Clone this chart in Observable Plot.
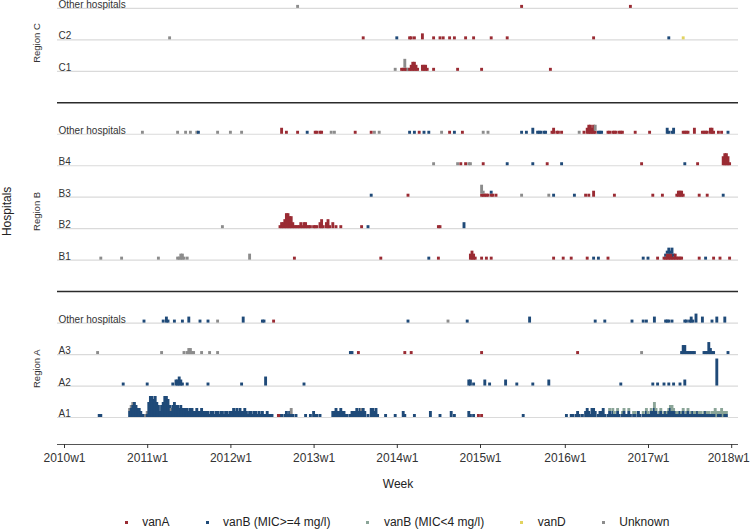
<!DOCTYPE html>
<html>
<head>
<meta charset="utf-8">
<script src="https://cdn.jsdelivr.net/npm/d3@7"></script>
<script src="https://cdn.jsdelivr.net/npm/@observablehq/plot@0.6"></script>
<style>
  html, body { margin: 0; padding: 0; background: #fff; }
  svg { display: block; }
  #legend { display: flex; justify-content: center; align-items: center; height: 20px; padding-left: 44px;
            font: 12px "Liberation Sans", Arial, sans-serif; color: #222; }
  #legend .item { display: flex; align-items: center; margin: 0 18px; white-space: nowrap; }
  #legend .sq { width: 3px; height: 3px; margin-right: 14.5px; }
</style>
</head>
<body>
<div id="chart"></div>
<div id="legend"></div>
<script>
// ---------- categories ----------
const types = ["vanA", "vanB (MIC>=4 mg/l)", "vanB (MIC<4 mg/l)", "vanD", "Unknown"];
const typeColors = ["#9a2b33", "#1f4a78", "#8ba598", "#e2d35f", "#8c8c8c"];
const regions = ["Region A", "Region B", "Region C"];
const hospitalsA = ["A1", "A2", "A3", "Other hospitals"];
const hospitalsB = ["B1", "B2", "B3", "B4", "Other hospitals"];
const hospitalsC = ["C1", "C2", "Other hospitals"];
const tickLabels = ["2010w1", "2011w1", "2012w1", "2013w1", "2014w1", "2015w1", "2016w1", "2017w1", "2018w1"];
const weeksPerYear = [52, 52, 52, 52, 52, 53, 52, 52];

// ---------- cases: [week index since 2010w1, count] ----------
// Region A, A1 (vanB MIC>=4, weekly counts per year)
const A1_vanBhi_2010 = [0,0,0,0,0,0,0,0,0,0, 0,0,0,0,0,0,0,0,0,0, 0,0,1,1,0,0,0,0,0,0, 0,0,0,0,0,0,0,0,0,0, 0,2,3,4,5,4,3,3,2,1, 1,0];
const A1_vanBhi_2011 = [1,5,7,7,6,7,5,4,2,4, 5,7,7,6,4,2,4,5,4,4, 3,4,3,3,3,3,2,3,3,2, 2,3,2,2,3,2,2,2,2,1, 2,2,1,2,2,1,2,2,1,2, 2,1];
const A1_vanBhi_2012 = [2,2,3,2,3,2,3,2,2,3, 2,1,2,2,1,2,2,1,2,1, 2,1,1,2,1,1,1,0,0,0, 0,0,1,0,1,2,1,2,1,1, 0,1,0,0,0,0,0,1,0,0, 1,0];
const A1_vanBhi_2013 = [2,1,1,0,1,0,0,0,0,0, 0,0,2,2,3,2,2,3,2,2, 1,1,0,1,2,2,2,3,2,3, 2,3,2,0,1,0,3,3,2,3, 1,0,0,0,0,1,0,0,0,0, 0,1];
const A1_vanBhi_2014 = [0,0,0,0,2,1,0,0,0,0, 0,1,0,0,0,0,0,0,0,0, 0,2,0,0,0,0,0,1,0,0, 0,0,0,0,2,0,1,0,0,0, 0,0,0,0,0,2,1,0,1,0, 0,0];
const A1_vanBhi_2015 = [0,0,0,0,0,0,0,0,0,0, 0,0,0,0,0,0,0,0,0,0, 0,0,0,0,0,0,0,1,0,0, 0,0,0,0,0,0,0,0,0,0, 0,0,0,0,0,0,0,0,0,0, 0,0,0];
const A1_vanBhi_2016 = [0,1,0,0,1,1,0,1,2,1, 0,1,0,2,3,2,1,3,3,2, 0,1,2,2,3,1,0,1,2,1, 2,1,1,2,1,0,1,2,1,1, 2,1,0,1,1,0,2,1,0,1, 1,2];
const A1_vanBhi_2017 = [1,1,2,2,3,2,1,1,2,1, 1,2,1,2,3,2,2,2,1,1, 2,1,2,1,1,2,1,1,2,1, 1,2,1,1,1,1,2,1,1,1, 1,1,1,0,1,1,1,0,1,1, 0,0];
const A1_vanA = [[134,1],[135,1],[259,1],[261,1]];
const A1_vanBlo = [[341,1],[343,1],[344,1],[346,1],[349,1],[350,1],[353,1],[356,1],[357,1],[362,1],[364,1],[365,1],[367,1],[369,2],[370,1],[372,1],[373,1],[375,1],[377,1],[378,1],[379,1],[380,2],[381,1],[383,1],[384,1],[386,1],[387,1],[389,1],[390,1],[392,1],[394,1],[395,1],[397,1],[398,1],[400,1],[402,1],[403,1],[405,1],[406,1],[407,2],[408,2],[409,1],[410,1],[411,2],[412,2],[413,1],[414,1]];
const A1_unknown = [[41,1],[42,1],[43,1],[51,1],[52,1],[67,1],[142,2],[186,1]];

// Region A, A2 / A3 / other
const A2_vanBhi = [[37,1],[52,1],[68,1],[70,2],[71,2],[72,3],[73,2],[74,1],[77,1],[90,1],[111,1],[126,3],[150,1],[253,2],[254,2],[256,1],[263,2],[266,1],[276,2],[283,1],[293,1],[303,2],[348,1],[368,1],[371,1],[375,1],[378,1],[381,1],[385,1],[388,2],[408,9]];
const A3_vanA = [[184,1],[213,1],[217,1],[261,1],[321,1]];
const A3_vanBhi = [[179,1],[180,1],[386,1],[387,3],[388,3],[389,1],[390,1],[391,1],[392,1],[393,1],[394,1],[400,1],[401,1],[402,1],[403,4],[404,2],[405,1],[406,1],[415,1]];
const A3_unknown = [[21,1],[61,1],[75,1],[77,1],[78,2],[79,2],[80,1],[81,1],[86,1],[91,1],[96,1],[361,1]];
const AO_vanA = [[131,1]];
const AO_vanBhi = [[50,1],[62,1],[64,2],[65,1],[69,1],[74,1],[78,2],[85,1],[90,1],[112,2],[124,1],[125,1],[215,1],[252,1],[291,2],[332,1],[338,1],[355,1],[362,1],[364,1],[369,2],[376,1],[377,1],[378,1],[380,1],[388,1],[389,1],[391,1],[392,2],[393,1],[395,3],[399,2],[405,1],[408,2],[413,2]];
const AO_unknown = [[96,1],[240,1]];

// Region B
const B1_vanA = [[144,1],[198,1],[234,1],[254,2],[255,3],[256,2],[257,1],[261,1],[264,1],[267,1],[306,1],[312,1],[317,1],[327,1],[340,1],[371,1],[375,1],[376,1],[377,2],[378,2],[379,2],[380,2],[381,1],[382,2],[383,1],[384,1],[385,1],[386,1],[397,1],[406,1],[410,1],[416,1]];
const B1_vanBhi = [[228,1],[331,1],[334,1],[362,1],[365,1],[376,1],[377,1],[378,2],[379,1],[380,2],[381,1],[401,1]];
const B1_unknown = [[23,1],[36,1],[59,1],[71,1],[72,1],[73,2],[74,2],[75,1],[77,1],[116,2]];
const B2_vanA = [[135,1],[136,2],[137,2],[138,3],[139,5],[140,5],[141,4],[142,4],[143,2],[144,1],[145,1],[146,1],[147,1],[148,2],[149,1],[150,2],[151,2],[152,1],[153,1],[154,1],[156,1],[157,1],[158,1],[160,2],[161,3],[162,1],[164,2],[165,3],[166,1],[168,2],[170,1],[173,1],[186,1],[234,1],[235,1]];
const B2_vanBhi = [[190,1],[250,2]];
const B2_unknown = [[99,1]];
const B3_vanA = [[215,1],[261,1],[262,1],[263,1],[264,1],[265,1],[267,1],[268,1],[270,1],[326,1],[328,1],[331,2],[344,1],[368,1],[374,1],[383,1],[384,2],[385,2],[386,2],[387,1],[397,1],[402,1]];
const B3_vanBhi = [[192,1],[267,1],[306,1],[319,1],[412,1]];
const B3_unknown = [[261,3],[262,1],[286,1],[303,1]];
const B4_vanA = [[248,1],[251,1],[262,1],[302,1],[361,1],[396,1],[412,3],[413,4],[414,4],[415,3],[416,1]];
const B4_vanBhi = [[277,1],[293,1],[311,1],[388,1]];
const B4_unknown = [[231,1],[246,1],[253,1],[254,1]];
const BO_vanA = [[136,2],[139,1],[146,1],[157,1],[158,1],[160,1],[161,1],[182,1],[192,1],[222,1],[241,1],[249,1],[305,1],[306,2],[308,1],[309,1],[311,1],[325,1],[327,2],[328,3],[329,3],[330,2],[331,3],[332,1],[340,1],[341,1],[343,1],[344,1],[345,1],[347,1],[348,1],[349,1],[357,1],[366,1],[387,1],[388,1],[389,1],[390,1],[394,2],[399,1],[400,1],[401,1],[402,1],[404,2],[405,2],[406,1],[409,1],[411,1]];
const BO_vanBhi = [[84,1],[152,1],[216,1],[219,1],[225,1],[228,1],[244,1],[286,1],[289,1],[293,2],[296,1],[297,1],[298,1],[300,1],[301,1],[334,1],[335,1],[336,1],[377,2],[378,1],[380,1],[381,2],[415,1]];
const BO_unknown = [[49,1],[71,1],[76,1],[79,1],[83,1],[96,1],[104,1],[111,1],[167,1],[169,1],[194,1],[197,1],[236,1],[262,1],[265,1],[322,1],[332,2]];

// Region C
const C1_vanA = [[211,1],[212,1],[213,1],[214,1],[216,1],[217,2],[218,3],[219,3],[220,2],[221,1],[224,2],[225,2],[226,2],[227,1],[231,1],[246,1],[261,1],[304,1]];
const C1_unknown = [[207,1],[213,3],[215,1]];
const C2_vanA = [[187,1],[216,1],[217,1],[219,1],[224,2],[231,1],[235,1],[237,1],[241,1],[244,1],[251,1],[256,1],[267,1],[277,1],[331,1]];
const C2_vanBhi = [[208,1],[378,1]];
const C2_vanD = [[387,1]];
const C2_unknown = [[66,1]];
const CO_vanA = [[286,1],[354,1]];
const CO_unknown = [[146,1]];

// ---------- assemble ----------
const tickWeeks = Array.from(d3.cumsum([0, ...weeksPerYear]));
const A1_vanBhi = [A1_vanBhi_2010, A1_vanBhi_2011, A1_vanBhi_2012, A1_vanBhi_2013,
                   A1_vanBhi_2014, A1_vanBhi_2015, A1_vanBhi_2016, A1_vanBhi_2017]
  .flatMap((arr, yi) => arr.map((c, i) => [tickWeeks[yi] + i, c]))
  .filter(d => d[1] > 0);

const [T_A, T_BHI, T_BLO, T_D, T_U] = types;
const seriesList = [
  ["Region A", "A1", T_A, A1_vanA], ["Region A", "A1", T_BHI, A1_vanBhi], ["Region A", "A1", T_BLO, A1_vanBlo], ["Region A", "A1", T_U, A1_unknown],
  ["Region A", "A2", T_BHI, A2_vanBhi],
  ["Region A", "A3", T_A, A3_vanA], ["Region A", "A3", T_BHI, A3_vanBhi], ["Region A", "A3", T_U, A3_unknown],
  ["Region A", "Other hospitals", T_A, AO_vanA], ["Region A", "Other hospitals", T_BHI, AO_vanBhi], ["Region A", "Other hospitals", T_U, AO_unknown],
  ["Region B", "B1", T_A, B1_vanA], ["Region B", "B1", T_BHI, B1_vanBhi], ["Region B", "B1", T_U, B1_unknown],
  ["Region B", "B2", T_A, B2_vanA], ["Region B", "B2", T_BHI, B2_vanBhi], ["Region B", "B2", T_U, B2_unknown],
  ["Region B", "B3", T_A, B3_vanA], ["Region B", "B3", T_BHI, B3_vanBhi], ["Region B", "B3", T_U, B3_unknown],
  ["Region B", "B4", T_A, B4_vanA], ["Region B", "B4", T_BHI, B4_vanBhi], ["Region B", "B4", T_U, B4_unknown],
  ["Region B", "Other hospitals", T_A, BO_vanA], ["Region B", "Other hospitals", T_BHI, BO_vanBhi], ["Region B", "Other hospitals", T_U, BO_unknown],
  ["Region C", "C1", T_A, C1_vanA], ["Region C", "C1", T_U, C1_unknown],
  ["Region C", "C2", T_A, C2_vanA], ["Region C", "C2", T_BHI, C2_vanBhi], ["Region C", "C2", T_D, C2_vanD], ["Region C", "C2", T_U, C2_unknown],
  ["Region C", "Other hospitals", T_A, CO_vanA], ["Region C", "Other hospitals", T_U, CO_unknown]
];

// layout: each hospital row gets a slot; an empty slot separates regions
const ROW_PITCH = 10.49;          // row spacing in case units
const regionLabelSlot = [1.55, 6.55, 11.9];
const regionHospitals = [hospitalsA, hospitalsB, hospitalsC];
const rowTable = [], separators = [], regionTable = [];
let slot = 0;
regions.forEach((r, ri) => {
  if (ri > 0) { separators.push(slot); slot++; }
  regionHospitals[ri].forEach(h => { rowTable.push({region: r, hospital: h, slot}); slot++; });
  regionTable.push({region: r, pos: regionLabelSlot[ri]});
});
const slotOf = new Map(rowTable.map(d => [d.region + "|" + d.hospital, d.slot]));

// stack types within each row and week
const cells = new Map();
for (const [region, hosp, type, data] of seriesList) {
  const s = slotOf.get(region + "|" + hosp);
  for (const [week, count] of data) {
    const key = s + "|" + week;
    if (!cells.has(key)) cells.set(key, {slot: s, week, parts: []});
    cells.get(key).parts.push({type, count});
  }
}
const bars = [];
for (const c of cells.values()) {
  c.parts.sort((a, b) => types.indexOf(a.type) - types.indexOf(b.type));
  let acc = c.slot * ROW_PITCH;
  for (const p of c.parts) {
    bars.push({week: c.week, type: p.type, y1: acc, y2: acc + p.count});
    acc += p.count;
  }
}
bars.sort((a, b) => a.week - b.week);

const yMin = -9;
const font = "'Liberation Sans', Arial, Helvetica, sans-serif";
const lastTick = tickWeeks[tickWeeks.length - 1];

const chart = Plot.plot({
  width: 750, height: 512,
  marginLeft: 57, marginRight: 12, marginTop: 0, marginBottom: 68,
  style: {fontFamily: font, background: "white", overflow: "visible"},
  x: {domain: [-4.375, 421.25], axis: null},
  y: {domain: [yMin, 139], axis: null},
  color: {domain: types, range: typeColors},
  marks: [
    Plot.ruleY(rowTable, {y: d => d.slot * ROW_PITCH, stroke: "#dadada", strokeWidth: 1.2}),
    Plot.ruleY(separators, {y: d => d * ROW_PITCH, stroke: "#2b2b2b", strokeWidth: 1.5}),
    Plot.ruleY([yMin], {stroke: "#555", strokeWidth: 1.2}),
    Plot.axisX({ticks: tickWeeks, tickFormat: d => d === lastTick ? "" : tickLabels[tickWeeks.indexOf(d)],
                tickSize: 4, tickPadding: 5, fontSize: 12, color: "#333", label: null}),
    Plot.axisX({ticks: [lastTick], tickFormat: d => tickLabels[tickWeeks.indexOf(d)],
                tickSize: 0, tickPadding: 9, dx: -3, fontSize: 12, color: "#333", label: null}),
    Plot.text([{t: "Week"}], {text: "t", frameAnchor: "bottom", dy: 43, fontSize: 12, fill: "#222"}),
    Plot.rect(bars, {x1: d => d.week - 0.9, x2: d => d.week + 0.9, y1: "y1", y2: "y2", fill: "type"}),
    Plot.text(rowTable, {frameAnchor: "left", y: d => d.slot * ROW_PITCH, text: "hospital",
                         textAnchor: "start", lineAnchor: "bottom", dx: 1, dy: -0.5, fontSize: 10, fill: "#333"}),
    Plot.text(regionTable, {frameAnchor: "left", y: d => d.pos * ROW_PITCH, text: "region",
                            textAnchor: "middle", rotate: -90, dx: -21, fontSize: 9.5, fill: "#333"}),
    Plot.text([{t: "Hospitals"}], {frameAnchor: "left", y: () => regionLabelSlot[1] * ROW_PITCH, text: "t",
                                   textAnchor: "middle", rotate: -90, dx: -50, fontSize: 12, fill: "#222"})
  ]
});
document.getElementById("chart").appendChild(chart);

// legend
const legend = document.getElementById("legend");
types.forEach((t, i) => {
  const item = document.createElement("div");
  item.className = "item";
  const sq = document.createElement("span");
  sq.className = "sq";
  sq.style.background = typeColors[i];
  const lab = document.createElement("span");
  lab.textContent = t;
  item.appendChild(sq); item.appendChild(lab);
  legend.appendChild(item);
});
</script>
</body>
</html>
